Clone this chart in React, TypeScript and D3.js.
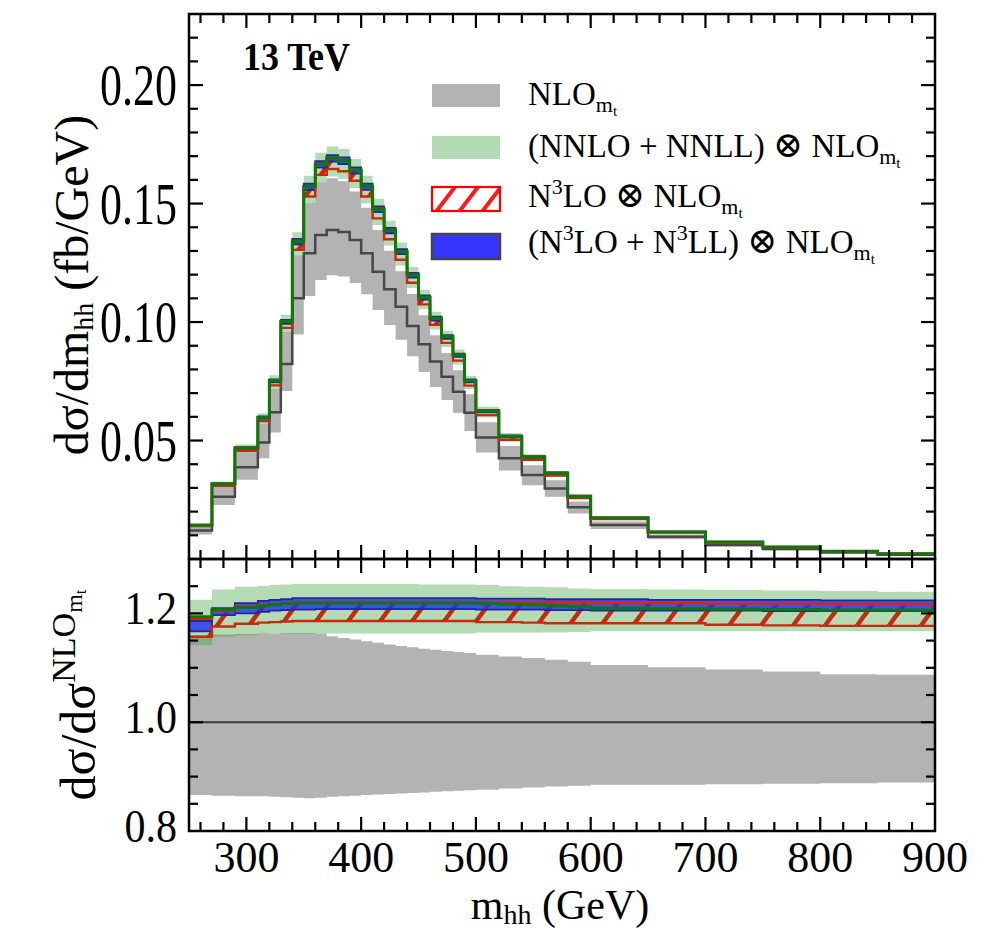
import React from "react";
import * as d3 from "d3";

// ---------------- data ----------------
const binEdges = [250, 270, 290, 310, 320, 330, 340, 350, 360, 370, 380, 390, 400, 410, 420, 430, 440, 450, 460, 470, 480, 490, 500, 520, 540, 560, 580, 600, 650, 700, 750, 800, 850, 900];

// NLO_mt central value dσ/dm_hh (fb/GeV)
const nloCentral = [0.0120, 0.0263, 0.0387, 0.0492, 0.0619, 0.0823, 0.1100, 0.1290, 0.1367, 0.1388, 0.1380, 0.1346, 0.1290, 0.1212, 0.1138, 0.1065, 0.0983, 0.0906, 0.0833, 0.0769, 0.0706, 0.0617, 0.0513, 0.0425, 0.0354, 0.0298, 0.0218, 0.0143, 0.0094, 0.0059, 0.0042, 0.0027, 0.0018];

// ratios to NLO_mt central
const nloLoRatio = [0.866, 0.865, 0.864, 0.864, 0.863, 0.862, 0.861, 0.860, 0.861, 0.863, 0.864, 0.865, 0.866, 0.867, 0.868, 0.869, 0.870, 0.871, 0.872, 0.873, 0.874, 0.875, 0.876, 0.878, 0.880, 0.882, 0.883, 0.885, 0.885, 0.886, 0.887, 0.888, 0.889];
const nloHiRatio = [1.160, 1.161, 1.162, 1.163, 1.163, 1.164, 1.164, 1.164, 1.163, 1.158, 1.155, 1.152, 1.149, 1.146, 1.143, 1.140, 1.138, 1.135, 1.133, 1.131, 1.129, 1.127, 1.124, 1.121, 1.118, 1.115, 1.111, 1.105, 1.101, 1.097, 1.093, 1.088, 1.087];

const nnllCentralRatio = [1.194, 1.2065, 1.211, 1.214, 1.216, 1.218, 1.219, 1.219, 1.219, 1.219, 1.219, 1.219, 1.219, 1.219, 1.219, 1.219, 1.219, 1.219, 1.219, 1.219, 1.219, 1.219, 1.218, 1.217, 1.216, 1.214, 1.212, 1.210, 1.209, 1.208, 1.207, 1.206, 1.206];
const nnllLoRatio = [1.142, 1.157, 1.160, 1.162, 1.163, 1.163, 1.163, 1.163, 1.163, 1.163, 1.163, 1.163, 1.163, 1.163, 1.163, 1.163, 1.163, 1.163, 1.163, 1.163, 1.163, 1.163, 1.165, 1.165, 1.165, 1.165, 1.166, 1.167, 1.167, 1.167, 1.167, 1.167, 1.167];
const nnllHiRatio = [1.225, 1.244, 1.249, 1.251, 1.252, 1.253, 1.254, 1.254, 1.254, 1.254, 1.254, 1.254, 1.254, 1.254, 1.254, 1.254, 1.254, 1.253, 1.253, 1.253, 1.253, 1.253, 1.252, 1.250, 1.249, 1.248, 1.246, 1.245, 1.244, 1.243, 1.242, 1.241, 1.240];

const n3loLoRatio = [1.157, 1.176, 1.181, 1.183, 1.184, 1.185, 1.186, 1.186, 1.186, 1.186, 1.186, 1.186, 1.186, 1.186, 1.186, 1.186, 1.186, 1.186, 1.186, 1.186, 1.186, 1.186, 1.184, 1.184, 1.183, 1.182, 1.182, 1.182, 1.182, 1.179, 1.178, 1.177, 1.177];
const n3loHiRatio = [1.190, 1.205, 1.213, 1.216, 1.217, 1.218, 1.220, 1.220, 1.220, 1.220, 1.220, 1.220, 1.220, 1.220, 1.220, 1.220, 1.220, 1.220, 1.220, 1.220, 1.220, 1.220, 1.220, 1.220, 1.220, 1.220, 1.220, 1.219, 1.219, 1.218, 1.218, 1.217, 1.217];

const n3llLoRatio = [1.167, 1.197, 1.200, 1.203, 1.205, 1.206, 1.207, 1.207, 1.208, 1.208, 1.208, 1.208, 1.208, 1.208, 1.208, 1.208, 1.208, 1.208, 1.208, 1.208, 1.208, 1.208, 1.207, 1.207, 1.207, 1.206, 1.206, 1.205, 1.205, 1.205, 1.204, 1.204, 1.204];
const n3llHiRatio = [1.186, 1.2095, 1.219, 1.223, 1.225, 1.226, 1.228, 1.228, 1.228, 1.228, 1.228, 1.228, 1.228, 1.228, 1.228, 1.228, 1.228, 1.228, 1.228, 1.228, 1.228, 1.228, 1.227, 1.227, 1.227, 1.226, 1.226, 1.226, 1.225, 1.225, 1.225, 1.224, 1.224];

const xTickValues = [300, 400, 500, 600, 700, 800, 900];
const xTickLabels = ["300", "400", "500", "600", "700", "800", "900"];
const topYTickValues = [0.05, 0.1, 0.15, 0.2];
const topYTickLabels = ["0.05", "0.10", "0.15", "0.20"];
const botYTickValues = [0.8, 1.0, 1.2];
const botYTickLabels = ["0.8", "1.0", "1.2"];

// ---------------- layout ----------------
const W = 990;
const H = 933;
const L = 189;
const R = 935;
const T = 14;
const MID = 559;
const B = 831;
const FONT = "'Liberation Serif', 'Times New Roman', serif";

const x = d3.scaleLinear().domain([250, 900]).range([L, R]);
const yTop = d3.scaleLinear().domain([0, 0.23]).range([MID, T]);
const yBot = d3.scaleLinear().domain([0.8, 1.3]).range([B, MID]);

type P = [number, number];
type BP = [number, number, number];

function stepLine(vals: number[]): P[] {
  const pts: P[] = [];
  vals.forEach((v, i) => {
    pts.push([binEdges[i], v]);
    pts.push([binEdges[i + 1], v]);
  });
  return pts;
}
function stepBand(lo: number[], hi: number[]): BP[] {
  const pts: BP[] = [];
  lo.forEach((v, i) => {
    pts.push([binEdges[i], v, hi[i]]);
    pts.push([binEdges[i + 1], v, hi[i]]);
  });
  return pts;
}
const mul = (a: number[], b: number[]) => a.map((v, i) => v * b[i]);
const ones = nloCentral.map(() => 1);

function linePath(vals: number[], y: d3.ScaleLinear<number, number>) {
  return d3.line<P>().x((d) => x(d[0])).y((d) => y(d[1]))(stepLine(vals)) || "";
}
function bandPath(lo: number[], hi: number[], y: d3.ScaleLinear<number, number>) {
  return (
    d3
      .area<BP>()
      .x((d) => x(d[0]))
      .y0((d) => y(d[1]))
      .y1((d) => y(d[2]))(stepBand(lo, hi)) || ""
  );
}

const GREY = "#b3b3b3";
const GREEN_FILL = "#3ca03c";
const GREEN_LINE = "#0b7a0b";
const RED = "#ee1c0a";
const HATCH = "#c62a0c";
const BLUE = "#2230f0";
const BLUE_EDGE = "#1a2aa0";

function Panel({
  y,
  base,
  clip,
}: {
  y: d3.ScaleLinear<number, number>;
  base: number[];
  clip: string;
}) {
  return (
    <g clipPath={`url(#${clip})`}>
      <path d={bandPath(mul(base, nloLoRatio), mul(base, nloHiRatio), y)} fill={GREY} />
      {clip === "clipBot" && (
        <line x1={L} x2={R} y1={y(1)} y2={y(1)} stroke="#3a3a3a" strokeWidth={2} />
      )}
      {clip === "clipTop" && (
        <path d={linePath(base, y)} fill="none" stroke="#474747" strokeWidth={2.5} />
      )}
      <path d={bandPath(mul(base, nnllLoRatio), mul(base, nnllHiRatio), y)} fill={GREEN_FILL} fillOpacity={0.38} />
      <path d={bandPath(mul(base, n3loLoRatio), mul(base, n3loHiRatio), y)} fill="url(#hatchPlot)" />
      <path d={bandPath(mul(base, n3llLoRatio), mul(base, n3llHiRatio), y)} fill={BLUE} fillOpacity={0.8} />
      <path d={linePath(mul(base, n3llHiRatio), y)} fill="none" stroke={BLUE_EDGE} strokeWidth={1.8} />
      <path d={linePath(mul(base, n3llLoRatio), y)} fill="none" stroke={BLUE_EDGE} strokeWidth={1.8} />
      <path d={linePath(mul(base, n3loHiRatio), y)} fill="none" stroke={RED} strokeWidth={2.4} />
      <path d={linePath(mul(base, n3loLoRatio), y)} fill="none" stroke={HATCH} strokeWidth={2.4} />
      <path d={linePath(mul(base, nnllCentralRatio), y)} fill="none" stroke={GREEN_LINE} strokeWidth={3} />
    </g>
  );
}

function Ticks() {
  const els: React.ReactNode[] = [];
  const xMinor = d3.range(260, 900, 20);
  xMinor.forEach((v) => {
    const major = v % 100 === 0;
    const len = major ? 14 : 9;
    const px = x(v);
    els.push(<line key={`xt${v}`} x1={px} x2={px} y1={T} y2={T + len} />);
    els.push(<line key={`xm1${v}`} x1={px} x2={px} y1={MID} y2={MID - len} />);
    els.push(<line key={`xm2${v}`} x1={px} x2={px} y1={MID} y2={MID + len} />);
    els.push(<line key={`xb${v}`} x1={px} x2={px} y1={B} y2={B - len} />);
  });
  d3.range(1, 23).forEach((k) => {
    const v = k * 0.01;
    const major = k % 5 === 0;
    const len = major ? 14 : 9;
    const py = yTop(v);
    els.push(<line key={`ytl${k}`} x1={L} x2={L + len} y1={py} y2={py} />);
    els.push(<line key={`ytr${k}`} x1={R} x2={R - len} y1={py} y2={py} />);
  });
  d3.range(1, 10).forEach((k) => {
    const v = 0.8 + k * 0.05;
    const major = k % 4 === 0;
    const len = major ? 14 : 9;
    const py = yBot(v);
    els.push(<line key={`ybl${k}`} x1={L} x2={L + len} y1={py} y2={py} />);
    els.push(<line key={`ybr${k}`} x1={R} x2={R - len} y1={py} y2={py} />);
  });
  return (
    <g stroke="#000" strokeWidth={2.2}>
      {els}
    </g>
  );
}

function Otimes() {
  return <tspan fontFamily="'DejaVu Serif', serif" fontWeight="normal" fontSize={36}>⊗</tspan>;
}

function Legend() {
  const sx = 432;
  const sw = 68;
  const tx = 528;
  const fs = 33;
  const sub = (
    <>
      <tspan fontSize={22} dy={7}>m</tspan>
      <tspan fontSize={15} dy={4}>t</tspan>
    </>
  );
  return (
    <g fontFamily={FONT} fill="#000">
      <rect x={sx} y={84} width={sw} height={23} fill={GREY} />
      <text x={tx} y={105} fontSize={fs}>NLO{sub}</text>

      <rect x={sx} y={136} width={sw} height={23} fill="#b3dbb3" />
      <text x={tx} y={157} fontSize={fs}>
        (NNLO + NNLL) <Otimes /> NLO{sub}
      </text>

      <rect x={sx} y={187} width={sw} height={24} fill="#fff" />
      <rect x={sx} y={187} width={sw} height={24} fill="url(#hatchLegend)" stroke="#ff0000" strokeWidth={2.2} />
      <text x={tx} y={207} fontSize={fs}>
        N<tspan fontSize={22} dy={-13}>3</tspan>
        <tspan dy={13}>LO </tspan>
        <Otimes />
        <tspan> NLO</tspan>
        {sub}
      </text>

      <rect x={sx} y={234} width={sw} height={25} fill="#3535ff" stroke="#444" strokeWidth={2.5} />
      <text x={tx} y={253} fontSize={fs}>
        (N<tspan fontSize={22} dy={-13}>3</tspan>
        <tspan dy={13}>LO + N</tspan>
        <tspan fontSize={22} dy={-13}>3</tspan>
        <tspan dy={13}>LL) </tspan>
        <Otimes />
        <tspan> NLO</tspan>
        {sub}
      </text>
    </g>
  );
}

export default function App() {
  return (
    <svg
      width={W}
      height={H}
      viewBox={`0 0 ${W} ${H}`}
      style={{ position: "absolute", left: 0, top: 0, background: "#fff" }}
    >
      <defs>
        <clipPath id="clipTop">
          <rect x={L} y={T} width={R - L} height={MID - T} />
        </clipPath>
        <clipPath id="clipBot">
          <rect x={L} y={MID} width={R - L} height={B - MID} />
        </clipPath>
        <pattern id="hatchPlot" patternUnits="userSpaceOnUse" width={32} height={44}>
          <path d="M0,44 L32,0 M-8,11 L8,-11 M24,55 L40,33" stroke={HATCH} strokeWidth={4.5} />
        </pattern>
        <pattern id="hatchLegend" patternUnits="userSpaceOnUse" x={432} y={187} width={23} height={30}>
          <path d="M0,30 L23,0 M-6,8 L6,-8 M17,38 L29,22" stroke="#ff1a1a" strokeWidth={4} />
        </pattern>
      </defs>

      <rect x={0} y={0} width={W} height={H} fill="#fff" />

      <Panel y={yTop} base={nloCentral} clip="clipTop" />
      <Panel y={yBot} base={ones} clip="clipBot" />

      <Ticks />

      <rect x={L} y={T} width={R - L} height={MID - T} fill="none" stroke="#000" strokeWidth={2.5} />
      <rect x={L} y={MID} width={R - L} height={B - MID} fill="none" stroke="#000" strokeWidth={2.5} />

      <g fontFamily={FONT} fontSize={44} fill="#000" textAnchor="end">
        {topYTickValues.map((v, i) => (
          <text key={v} transform={`translate(177,${yTop(v) + 20}) scale(1,1.33)`}>
            {topYTickLabels[i]}
          </text>
        ))}
      </g>
      <g fontFamily={FONT} fontSize={42} fill="#000" textAnchor="end">
        {botYTickValues.map((v, i) => (
          <text key={v} transform={`translate(177,${yBot(v) + 11}) scale(1,1.12)`}>
            {botYTickLabels[i]}
          </text>
        ))}
      </g>
      <g fontFamily={FONT} fontSize={44} fill="#000" textAnchor="middle">
        {xTickValues.map((v, i) => (
          <text key={v} x={x(v)} y={872}>
            {xTickLabels[i]}
          </text>
        ))}
      </g>

      <text x={560} y={919} fontFamily={FONT} fontSize={42} textAnchor="middle">
        m<tspan fontSize={28} dy={5}>hh</tspan>
        <tspan dy={-5}> (GeV)</tspan>
      </text>
      <text
        transform="translate(88,285) rotate(-90)"
        fontFamily={FONT}
        fontSize={48}
        textAnchor="middle"
      >
        dσ/dm<tspan fontSize={28} dy={5}>hh</tspan>
        <tspan dy={-5}> (fb/GeV)</tspan>
      </text>
      <text
        transform="translate(95,695) rotate(-90)"
        fontFamily={FONT}
        fontSize={50}
        textAnchor="middle"
      >
        dσ/dσ<tspan fontSize={34} dy={-20}>NLO</tspan>
        <tspan fontSize={24} dy={7}>m</tspan>
        <tspan fontSize={17} dy={4}>t</tspan>
      </text>

      <text x={243} y={70} fontFamily={FONT} fontSize={36} fontWeight="bold" transform="translate(0,-7) scale(1,1.1)">
        13 TeV
      </text>

      <Legend />
    </svg>
  );
}
